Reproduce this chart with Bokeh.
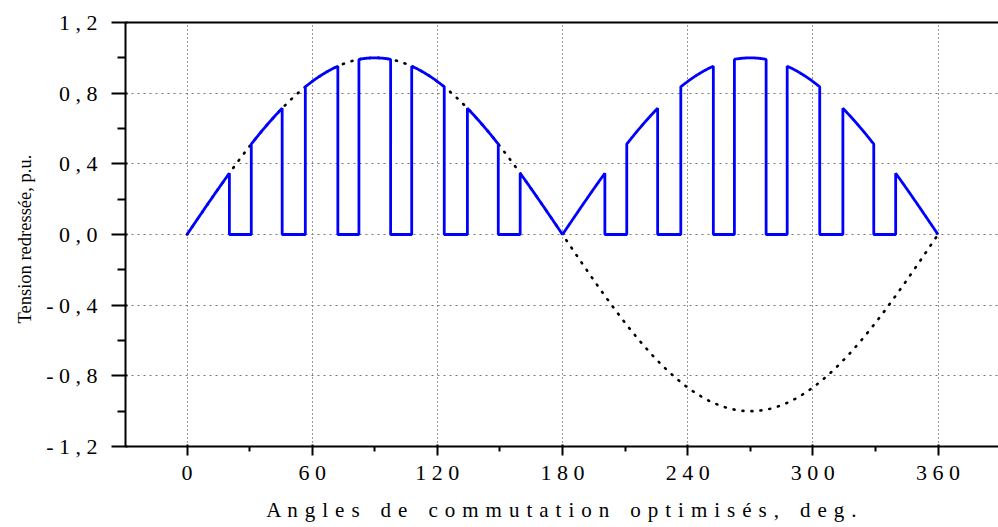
import numpy as np
from bokeh.plotting import figure
from bokeh.models import FixedTicker, LinearAxis, Range1d, CustomJSTickFormatter
from bokeh.embed import file_html
from bokeh.resources import INLINE

# ---- data ----
# optimised switching angles (deg) of the first quarter period
switch_angles = [20.3, 30.8, 45.6, 56.7, 72.3, 82.4]
amplitude = 1.0
x_ticks = [0, 60, 120, 180, 240, 300, 360]
x_minor = [-30, 30, 90, 150, 210, 270, 330, 390]
x_tick_labels = ["0", "6 0", "1 2 0", "1 8 0", "2 4 0", "3 0 0", "3 6 0"]
y_ticks = [-1.2, -0.8, -0.4, 0.0, 0.4, 0.8, 1.2]
y_minor = [-1.0, -0.6, -0.2, 0.2, 0.6, 1.0]
y_tick_labels = ["- 1 , 2", "- 0 , 8", "- 0 , 4", "0 , 0", "0 , 4", "0 , 8", "1 , 2"]
x_title_words = ["Angles", "de", "commutation", "optimisés,", "deg."]
y_title = "Tension redressée, p.u."

# letter-spaced x title (non-collapsing spaces for the SVG text)
LETTER_GAP = " \u200a"
WORD_GAP = "\u00a0\u00a0\u00a0 "
x_title = WORD_GAP.join(LETTER_GAP.join(list(w)) for w in x_title_words)

# ---- reference sine (dotted) ----
xs_sine = np.linspace(0, 360, 721)
ys_sine = amplitude * np.sin(np.radians(xs_sine))

# ---- rectified PWM waveform built from the switching angles ----
a = switch_angles
half_on = [(0.0, a[0]), (a[1], a[2]), (a[3], a[4]), (a[5], 180 - a[5]),
           (180 - a[4], 180 - a[3]), (180 - a[2], 180 - a[1]), (180 - a[0], 180.0)]
on_intervals = half_on + [(s + 180, e + 180) for s, e in half_on]
wx, wy = [], []
for s, e in on_intervals:
    if wx:
        wx.append(s); wy.append(0.0)
    seg = np.linspace(s, e, max(3, int((e - s) * 2)))
    wx.extend(seg.tolist())
    wy.extend((amplitude * np.abs(np.sin(np.radians(seg)))).tolist())
    wx.append(e); wy.append(0.0)

SERIF = "Liberation Serif"

p = figure(width=998, height=527, x_range=Range1d(-29.5, 389), y_range=Range1d(-1.2, 1.2),
           output_backend="svg", toolbar_location=None,
           min_border_left=125, min_border_right=0, min_border_top=22, min_border_bottom=81,
           background_fill_color="white", border_fill_color="white")
p.outline_line_color = None

p.line(xs_sine, ys_sine, line_color="black", line_width=2.6, line_dash="1 8", line_cap="round")
p.line(wx, wy, line_color="#0000FF", line_width=2.8)

fmt_code = "const i = tv.findIndex(t => Math.abs(t - tick) < 1e-6); return i >= 0 ? tl[i] : '';"

xa = p.xaxis[0]
xa.ticker = FixedTicker(ticks=x_ticks, minor_ticks=x_minor)
xa.formatter = CustomJSTickFormatter(args=dict(tv=x_ticks, tl=x_tick_labels), code=fmt_code)
xa.axis_label = x_title
ya = p.yaxis[0]
ya.ticker = FixedTicker(ticks=y_ticks, minor_ticks=y_minor)
ya.formatter = CustomJSTickFormatter(args=dict(tv=y_ticks, tl=y_tick_labels), code=fmt_code)
ya.axis_label = y_title + "\u00a0\u00a0"

for ax in (xa, ya):
    ax.axis_line_width = 2
    ax.axis_line_color = "black"
    ax.major_tick_line_width = 2
    ax.minor_tick_line_width = 2
    ax.major_tick_line_color = "black"
    ax.minor_tick_line_color = "black"
    ax.major_tick_in = 2
    ax.minor_tick_in = 0
    ax.major_label_text_font = SERIF
    ax.major_label_text_font_size = "22px"
    ax.major_label_text_color = "black"
    ax.axis_label_text_font = SERIF
    ax.axis_label_text_font_style = "normal"
    ax.axis_label_text_color = "black"

xa.major_tick_out = 9
xa.minor_tick_out = 5
xa.major_label_standoff = 4
xa.axis_label_text_font_size = "21px"
xa.axis_label_standoff = 10

ya.major_tick_out = 14
ya.minor_tick_out = 8
ya.major_label_standoff = 14
ya.axis_label_text_font_size = "18.5px"
ya.axis_label_standoff = 8

top = LinearAxis(ticker=FixedTicker(ticks=[]), major_label_text_font_size="0px",
                 axis_line_width=2, axis_line_color="black", major_tick_line_color=None,
                 minor_tick_line_color=None)
p.add_layout(top, "above")

p.xgrid.ticker = FixedTicker(ticks=x_ticks)
p.ygrid.ticker = FixedTicker(ticks=y_ticks)
p.xgrid.grid_line_color = "#333333"
p.xgrid.grid_line_dash = "1 3"
p.xgrid.grid_line_width = 1
p.ygrid.grid_line_color = "#777777"
p.ygrid.grid_line_dash = "2 4"
p.ygrid.grid_line_width = 1

open("out.html", "w").write(file_html(p, INLINE))
